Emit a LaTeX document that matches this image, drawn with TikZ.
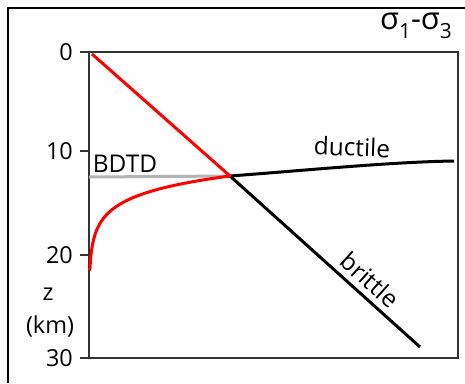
\documentclass[tikz,border=0pt]{standalone}
\usepackage{fontspec}
\setmainfont{Open Sans}
\usetikzlibrary{positioning}
\definecolor{curvered}{HTML}{FF0000}
\definecolor{bdtgray}{HTML}{B3B3B3}
\definecolor{axiscol}{HTML}{333333}

\begin{document}
\begin{tikzpicture}[
  x=1bp, y=-1bp,
  axisline/.style={draw=axiscol, line width=1.2bp},
  ticklabel/.style={anchor=east, inner sep=0pt, font=\fontsize{23.5}{23.5}\selectfont},
  curvelabel/.style={inner sep=0pt, font=\fontsize{24.5}{24.5}\selectfont},
  redcurve/.style={draw=curvered, line width=3bp},
  blackcurve/.style={draw=black, line width=3bp},
  bdtline/.style={draw=bdtgray, line width=3bp},
]
\useasboundingbox (0,0) rectangle (465,383);

% panel frame
\draw[line width=1.3bp] (8,383) -- (8,8) -- (465,8);
\node[inner sep=0pt, font=\fontsize{31}{31}\selectfont] (sigtitle) at (416,26)
  {σ\raisebox{-0.28em}{\fontsize{21}{21}\selectfont 1}-σ\raisebox{-0.28em}{\fontsize{21}{21}\selectfont 3}};

% plot box and depth ticks
\draw[axisline] (89,52) rectangle (458,358);
\foreach \z/\y in {0/52,10/151,20/255,30/358}{
  \draw[axisline] (80,\y) -- (89,\y);
  \node[ticklabel] (tick\z) at (73,\y) {\z};
}
\node[ticklabel, anchor=center] (zlab)  at (48,294) {z};
\node[ticklabel, anchor=center] (kmlab) at (50,326) {(km)};

% key points
\coordinate (surf)    at (92,54);
\coordinate (bdt)     at (230,176);
\coordinate (bdtleft) at (89,177);
\coordinate (ductend) at (454,161);
\coordinate (britend) at (420,347);

% transition depth
\draw[bdtline] (bdtleft) -- (bdt);
\node[curvelabel] (bdtd) at (125,164) {BDTD};

% strength envelopes
\draw[blackcurve] (bdt) .. controls (310,170) and (390,162) .. (ductend);
\draw[blackcurve] (bdt) -- (britend);
\draw[redcurve] (surf) -- (bdt);
\draw[redcurve, line cap=round] plot[domain=176:270, samples=80, variable=\t]
  ({89+141*exp(-(\t-176)/18.6)}, \t);

\node[curvelabel, rotate=-2] (ductlab) at (352,147) {ductile};
\node[curvelabel, rotate=-42] (britlab) at (370,280) {brittle};

\end{tikzpicture}
\end{document}
